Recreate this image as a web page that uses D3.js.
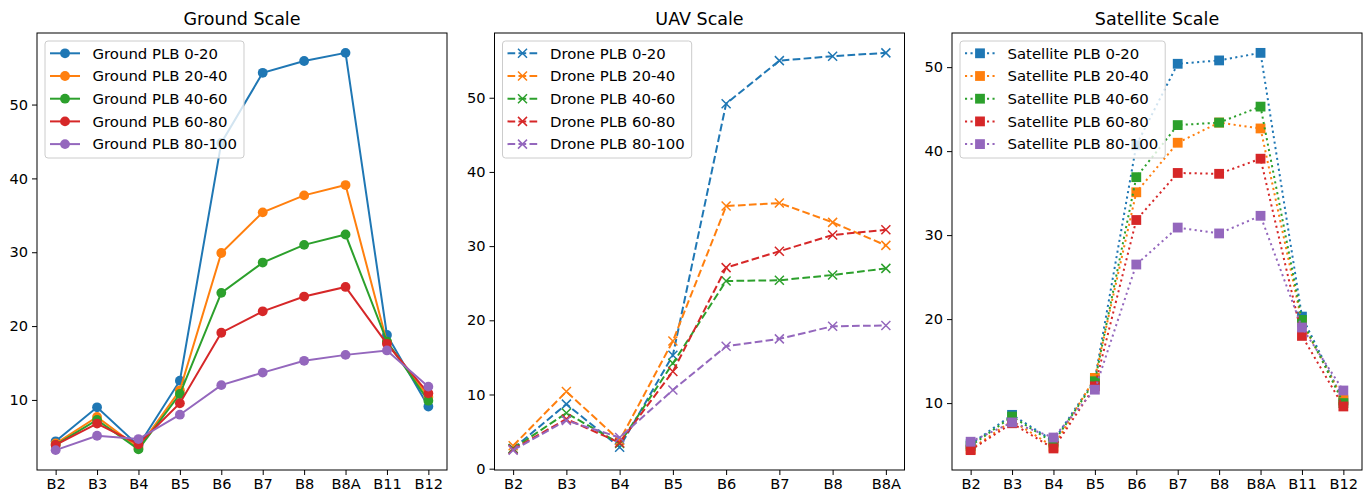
<!DOCTYPE html>
<html><head><meta charset="utf-8">
<script src="https://cdn.jsdelivr.net/npm/d3@7"></script>
<style>
html,body{margin:0;padding:0;background:#fff;}
text{font-family:"DejaVu Sans",sans-serif;}
</style></head>
<body><svg id="c" width="1367" height="498"></svg>
<script>
const bandsFull = ["B2","B3","B4","B5","B6","B7","B8","B8A","B11","B12"];
const bandsDrone = ["B2","B3","B4","B5","B6","B7","B8","B8A"];
const ranges = ["0-20","20-40","40-60","60-80","80-100"];
const colors = ["#1f77b4","#ff7f0e","#2ca02c","#d62728","#9467bd"];

const ground0_20  = [4.4, 9.0, 3.8, 12.6, 44.8, 54.3, 55.9, 57.0, 18.8, 9.1];
const ground20_40 = [4.1, 7.7, 3.5, 11.3, 29.9, 35.4, 37.7, 39.1, 17.8, 10.4];
const ground40_60 = [3.9, 7.3, 3.3, 10.8, 24.5, 28.6, 31.0, 32.4, 17.9, 9.9];
const ground60_80 = [3.9, 6.8, 4.0, 9.55, 19.1, 22.0, 24.0, 25.3, 17.6, 10.9];
const ground80_100= [3.2, 5.15, 4.7, 8.0, 12.0, 13.7, 15.3, 16.1, 16.7, 11.8];

const drone0_20  = [2.7, 8.7, 2.9, 15.3, 49.2, 55.0, 55.6, 56.05];
const drone20_40 = [3.1, 10.4, 3.8, 17.2, 35.4, 35.8, 33.2, 30.1];
const drone40_60 = [2.7, 7.5, 3.4, 14.2, 25.3, 25.4, 26.1, 27.0];
const drone60_80 = [2.6, 6.7, 3.5, 13.1, 27.1, 29.3, 31.5, 32.2];
const drone80_100= [2.5, 6.5, 4.2, 10.6, 16.5, 17.5, 19.2, 19.3];

const sat0_20  = [5.1, 8.6, 5.5, 12.8, 40.7, 50.4, 50.8, 51.7, 20.3, 10.3];
const sat20_40 = [4.5, 7.9, 4.8, 13.0, 35.1, 41.0, 43.4, 42.7, 19.6, 10.4];
const sat40_60 = [4.9, 8.4, 5.3, 12.6, 36.9, 43.1, 43.4, 45.3, 19.9, 10.0];
const sat60_80 = [4.4, 7.6, 4.6, 12.0, 31.8, 37.4, 37.3, 39.1, 18.0, 9.6];
const sat80_100= [5.4, 7.7, 5.9, 11.6, 26.5, 30.9, 30.2, 32.3, 19.0, 11.5];

const yTicksGround = [10,20,30,40,50];
const yTicksDrone = [0,10,20,30,40,50];
const yTicksSat = [10,20,30,40,50];

const panels = [
  {title:"Ground Scale", prefix:"Ground PLB ", bands:bandsFull, series:[ground0_20,ground20_40,ground40_60,ground60_80,ground80_100], yTicks:yTicksGround, marker:"o", dash:null, left:37},
  {title:"UAV Scale", prefix:"Drone PLB ", bands:bandsDrone, series:[drone0_20,drone20_40,drone40_60,drone60_80,drone80_100], yTicks:yTicksDrone, marker:"x", dash:"7.7,3.3", left:494.5},
  {title:"Satellite Scale", prefix:"Satellite PLB ", bands:bandsFull, series:[sat0_20,sat20_40,sat40_60,sat60_80,sat80_100], yTicks:yTicksSat, marker:"s", dash:"2.1,3.4", left:952}
];

const svg = d3.select("#c");
const W = 410, TOP = 33, H = 437;
const fs = 14.6, lfs = 14.9;

function drawMarker(g, type, x, y, color){
  if(type==="o"){
    g.append("circle").attr("cx",x).attr("cy",y).attr("r",4.9).attr("fill",color);
  } else if(type==="x"){
    const s=4.5;
    g.append("path").attr("d",`M${x-s},${y-s}L${x+s},${y+s}M${x-s},${y+s}L${x+s},${y-s}`)
      .attr("stroke",color).attr("stroke-width",1.5).attr("fill","none");
  } else {
    const s=4.9;
    g.append("rect").attr("x",x-s).attr("y",y-s).attr("width",2*s).attr("height",2*s).attr("fill",color);
  }
}

panels.forEach(p=>{
  const g = svg.append("g").attr("transform",`translate(${p.left},${TOP})`);
  const n = p.bands.length;
  const x = d3.scalePoint().domain(p.bands).range([0,W]).padding(0.05*(n-1));
  const all = p.series.flat();
  const mn = d3.min(all), mx = d3.max(all), R = mx-mn;
  const y = d3.scaleLinear().domain([mn-0.05*R, mx+0.05*R]).range([H,0]);

  p.series.forEach((vals,i)=>{
    const sg = g.append("g");
    const line = d3.line().x((d,j)=>x(p.bands[j])).y(d=>y(d));
    const path = sg.append("path").datum(vals).attr("d",line).attr("fill","none")
      .attr("stroke",colors[i]).attr("stroke-width",2);
    if(p.dash) path.attr("stroke-dasharray",p.dash);
    vals.forEach((v,j)=>drawMarker(sg,p.marker,x(p.bands[j]),y(v),colors[i]));
  });

  const xa = g.append("g").attr("transform",`translate(0,${H})`)
    .call(d3.axisBottom(x).tickSize(5).tickPadding(4));
  const ya = g.append("g").call(d3.axisLeft(y).tickValues(p.yTicks).tickFormat(d3.format("d")).tickSize(5).tickPadding(4));
  [xa,ya].forEach(a=>{
    a.select(".domain").remove();
    a.selectAll("line").attr("stroke","#000").attr("stroke-width",1);
    a.selectAll("text").attr("font-size",fs).attr("fill","#000").attr("font-family","DejaVu Sans");
  });
  g.append("rect").attr("x",0).attr("y",0).attr("width",W).attr("height",H)
    .attr("fill","none").attr("stroke","#000").attr("stroke-width",1);

  svg.append("text").attr("x",p.left+W/2).attr("y",25).attr("text-anchor","middle")
    .attr("font-size",17.5).attr("fill","#000").text(p.title);

  const lg = g.append("g").attr("transform","translate(8,8)");
  const box = lg.append("rect").attr("x",0).attr("y",0).attr("rx",3).attr("ry",3)
    .attr("fill","#fff").attr("fill-opacity",0.8).attr("stroke","#cccccc").attr("stroke-width",1);
  let maxW = 0;
  ranges.forEach((r,i)=>{
    const cy = 12.3 + i*22.7;
    const l = lg.append("line").attr("x1",5).attr("x2",35).attr("y1",cy).attr("y2",cy)
      .attr("stroke",colors[i]).attr("stroke-width",2);
    if(p.dash) l.attr("stroke-dasharray",p.dash);
    drawMarker(lg,p.marker,20,cy,colors[i]);
    const t = lg.append("text").attr("x",47.5).attr("y",cy+5.3).attr("font-size",lfs).attr("fill","#000")
      .text(p.prefix+r);
    maxW = Math.max(maxW, t.node().getComputedTextLength());
  });
  box.attr("width",47.5+maxW+7).attr("height",117);
});
</script></body></html>
